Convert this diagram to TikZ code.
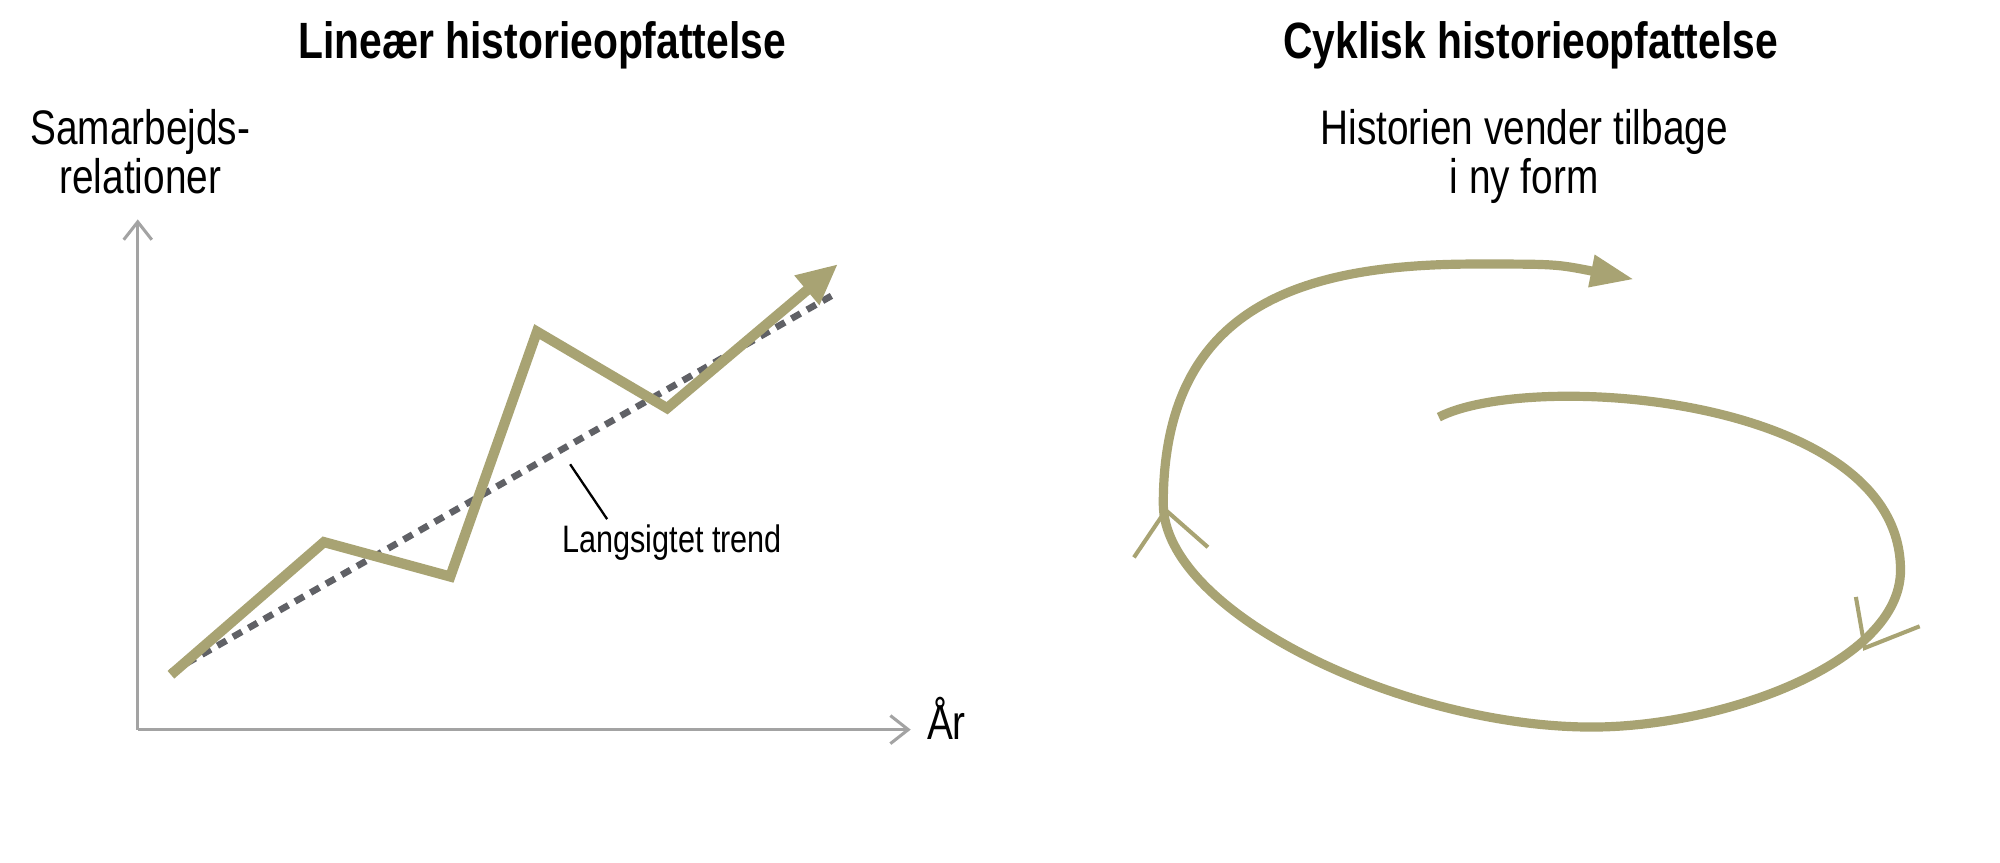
\documentclass[tikz,border=0pt]{standalone}
\usepackage{fontspec}
\setmainfont[FakeStretch=0.80]{Liberation Sans}
\usetikzlibrary{arrows.meta}
\definecolor{khaki}{HTML}{A8A373}
\definecolor{trendgray}{HTML}{606166}
\definecolor{axisgray}{HTML}{A3A3A3}
\begin{document}
\begin{tikzpicture}[x=0.5pt, y=-0.5pt,
    axis/.style={draw=axisgray, line width=1.2pt, -{Straight Barb[length=7pt, width=11pt, line width=1.2pt]}},
    curve/.style={draw=khaki, line width=4pt},
    tick/.style={draw=khaki, line width=1.6pt},
    title/.style={font=\fontsize{20}{24}\selectfont\bfseries, anchor=base, inner sep=0pt},
    label/.style={font=\fontsize{19}{19.5}\selectfont, anchor=base, align=center, inner sep=0pt}]
    \useasboundingbox (0,0) rectangle (1568,676);

    % Titles and labels
    \node[title] (lintitle) at (425,46) {Lineær historieopfattelse};
    \node[title] (cyctitle) at (1200,46) {Cyklisk historieopfattelse};
    \node[label] (ylabel) at (110,152) {Samarbejds-\\relationer};
    \node[label] (xlabel) at (742,580) {År};
    \node[label] (note) at (1195,152) {Historien vender tilbage\\i ny form};
    \node[font=\fontsize{15}{18}\selectfont, anchor=base, inner sep=0pt] (trend) at (527,433) {Langsigtet trend};

    % Axes
    \coordinate (o) at (108,572);
    \coordinate (ytop) at (108,172);
    \coordinate (xend) at (714,572);
    \draw[axis] (o) -- (ytop);
    \draw[axis] (o) -- (xend);

    % Trend and zigzag
    \coordinate (t0) at (134,527);
    \coordinate (t1) at (657,229);
    \draw[draw=trendgray, line width=2.6pt, dash pattern=on 4pt off 3pt] (t0) -- (t1);
    \coordinate (p0) at (134,529);
    \coordinate (p1) at (254,425);
    \coordinate (p2) at (353,452);
    \coordinate (p3) at (421,260);
    \coordinate (p4) at (523,320);
    \coordinate (p5) at (657,207);
    \draw[curve, -{Triangle[length=16pt, width=14pt]}] (p0) -- (p1) -- (p2) -- (p3) -- (p4) -- (p5);
    \coordinate (lead) at (447,364);
    \draw[black, line width=0.9pt] (lead) -- (476,407);

    % Spiral
    \coordinate (s0) at (1128,327);
    \coordinate (s1) at (1490,447);
    \coordinate (s2) at (1248,570);
    \coordinate (s3) at (912,395);
    \coordinate (s4) at (1157,207);
    \coordinate (s5) at (1281,219);
    \draw[curve, line width=3.6pt, -{Triangle[length=17pt, width=12pt]}]
        (s0) .. controls (1200,290) and (1490,310) .. (s1)
             .. controls (1490,520) and (1350,570) .. (s2)
             .. controls (1100,570) and (912,480) .. (s3)
             .. controls (912,240) and (1020,207) .. (s4)
             .. controls (1220,207) .. (s5);
    \coordinate (lv) at (914,400);
    \draw[tick] (889,437) -- (lv) -- (947,429);
    \coordinate (rv) at (1462,508);
    \draw[tick] (1455,468) -- (rv) -- (1505,491);
\end{tikzpicture}
\end{document}
